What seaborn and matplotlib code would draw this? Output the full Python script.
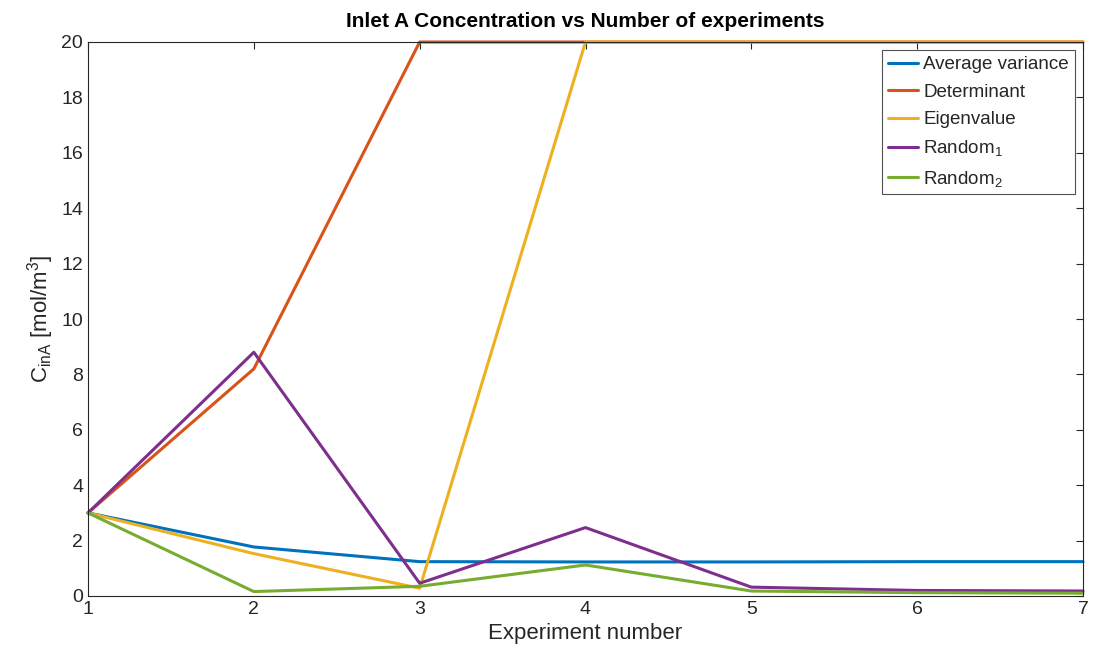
import matplotlib
matplotlib.use("Agg")
import matplotlib.pyplot as plt
import seaborn as sns
import pandas as pd

experiments = [1, 2, 3, 4, 5, 6, 7]
avg_variance = [3.0, 1.77, 1.24, 1.23, 1.23, 1.24, 1.24]
determinant = [3.0, 8.2, 20.0, 20.0, 20.0, 20.0, 20.0]
eigenvalue = [3.0, 1.53, 0.28, 20.0, 20.0, 20.0, 20.0]
random1 = [3.0, 8.8, 0.46, 2.47, 0.32, 0.2, 0.18]
random2 = [3.0, 0.16, 0.35, 1.12, 0.18, 0.12, 0.1]

series_names = ["Average variance", "Determinant", "Eigenvalue",
                r"Random$_1$", r"Random$_2$"]
series_values = [avg_variance, determinant, eigenvalue, random1, random2]
colors = ["#0072BD", "#D95319", "#EDB120", "#7E2F8E", "#77AC30"]

rows = []
for name, vals in zip(series_names, series_values):
    for x, v in zip(experiments, vals):
        rows.append({"Experiment": x, "Value": v, "Series": name})
df = pd.DataFrame(rows)

sns.set_style("white")
plt.rcParams['font.family'] = ['Liberation Sans', 'DejaVu Sans']
plt.rcParams['mathtext.fontset'] = 'custom'
plt.rcParams['mathtext.rm'] = 'Liberation Sans'
plt.rcParams['mathtext.it'] = 'Liberation Sans'

fig = plt.figure(figsize=(10.93, 6.63), dpi=100)
ax = fig.add_axes([88/1093, 67/663, (1083-88)/1093, (596-42)/663])

sns.lineplot(data=df, x="Experiment", y="Value", hue="Series",
             hue_order=series_names, palette=colors, linewidth=2.2, ax=ax,
             legend=True)
for ln in ax.get_lines():
    ln.set_clip_on(False)

ax.set_xlim(1, 7)
ax.set_ylim(0, 20)
ax.set_xticks(experiments)
ax.set_yticks(range(0, 21, 2))
ax.tick_params(direction="in", length=5, top=True, right=True,
               labelsize=14, colors="#262626", width=0.8)
for sp in ax.spines.values():
    sp.set_color("#262626")
    sp.set_linewidth(0.8)
    sp.set_visible(True)

ax.set_xlabel("Experiment number", fontsize=16, color="#262626")
ax.set_ylabel(r"C$_{\mathrm{inA}}$ [mol/m$^3$]", fontsize=16, color="#262626")
ax.set_title("Inlet A Concentration vs Number of experiments",
             fontsize=15, fontweight="bold", color="black", pad=11)

leg = ax.legend(loc="upper right", fontsize=13.5, frameon=True, fancybox=False,
                edgecolor="#262626", handlelength=1.6, handletextpad=0.3,
                borderpad=0.3, labelspacing=0.55, borderaxespad=0.45)
leg.get_frame().set_linewidth(0.8)
for line in leg.get_lines():
    line.set_linewidth(2.2)

fig.savefig("out.png", dpi=100)
